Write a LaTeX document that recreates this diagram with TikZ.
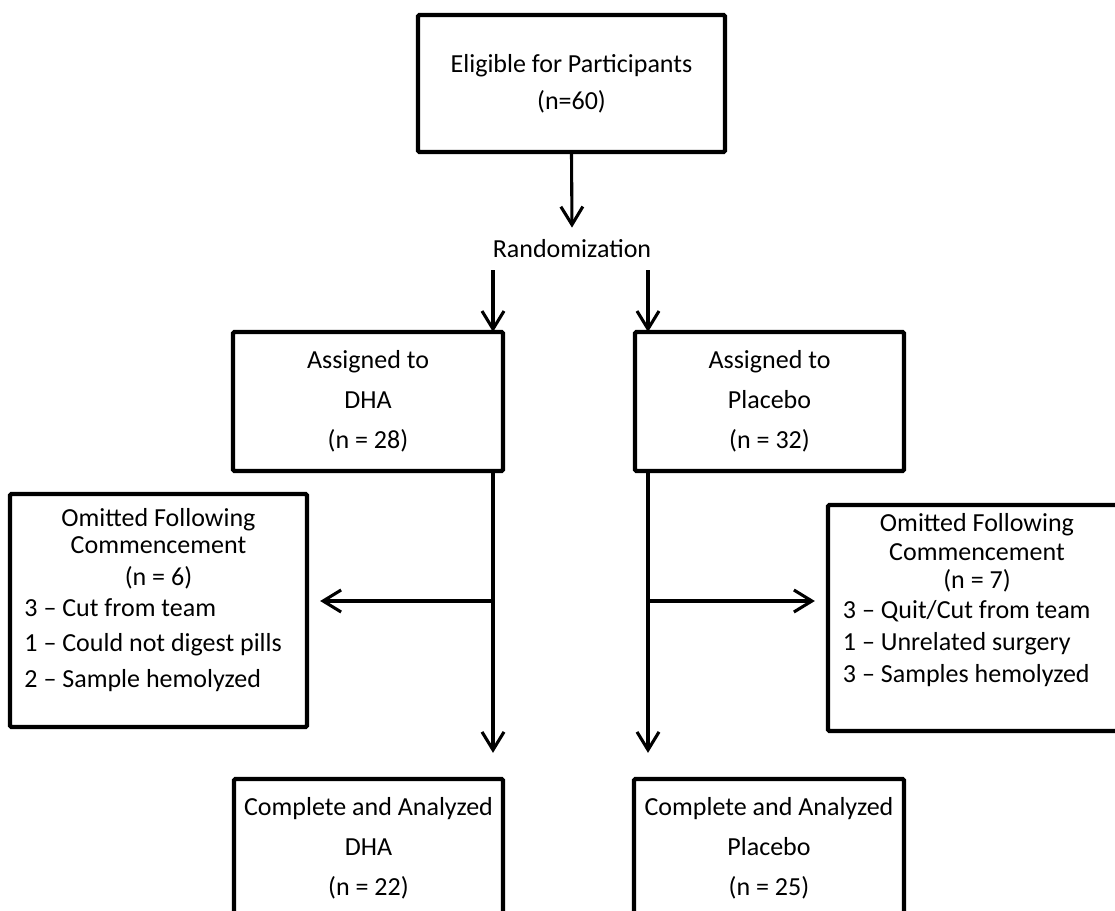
\documentclass[tikz,border=0pt]{standalone}
\usepackage{fontspec}
\setmainfont{Carlito}
\usetikzlibrary{arrows.meta}
\newcommand{\omitline}[1]{\makebox[6.7cm][l]{#1}}

\begin{document}
\begin{tikzpicture}[x=0.025cm, y=-0.025cm, >={Straight Barb[length=0.45cm,width=0.55cm]},
        box/.style={draw, line width=3pt, rounded corners=1pt, inner sep=0pt, align=center,
            font=\fontsize{18.5}{28.45}\selectfont},
        omittext/.style={anchor=north, inner sep=0pt, align=center, font=\fontsize{18.5}{19.3}\selectfont},
        arr/.style={->, line width=2.2pt}]
        \useasboundingbox (0,0) rectangle (1115,911);
        \clip (0,0) rectangle (1115,911);
        % boxes
        \node[box, minimum width=7.675cm, minimum height=3.425cm, font=\fontsize{18.5}{26.3}\selectfont]
            (elig) at (571.5,83.5) {Eligible for Participants\\(n=60)};
        \node[inner sep=0.3cm, font=\fontsize{18.5}{22}\selectfont] (rand) at (572,249) {Randomization};
        \node[box, minimum width=6.75cm, minimum height=3.475cm] (dha) at (368,401.5) {Assigned to\\DHA\\(n = 28)};
        \node[box, minimum width=6.725cm, minimum height=3.475cm] (plac) at (769.5,401.5) {Assigned to\\Placebo\\(n = 32)};
        \node[box, minimum width=7.425cm, minimum height=5.825cm] (omitdha) at (158.5,610.5) {};
        \node[box, minimum width=7.45cm, minimum height=5.65cm] (omitplac) at (977,618) {};
        \node[omittext] (omitdhatxt) at (158.5,508) {Omitted Following\\Commencement\\[0.125cm](n = 6)\\[0.1cm]%
            \omitline{3 -- Cut from team}\\[0.2cm]\omitline{1 -- Could not digest pills}\\[0.2cm]%
            \omitline{2 -- Sample hemolyzed}};
        \node[omittext] (omitplactxt) at (977,513) {Omitted Following\\[0.05cm]Commencement\\[0.025cm](n = 7)\\[0.075cm]%
            \omitline{3 -- Quit/Cut from team}\\[0.125cm]\omitline{1 -- Unrelated surgery}\\[0.1cm]%
            \omitline{3 -- Samples hemolyzed}};
        \node[box, minimum width=6.725cm, minimum height=3.475cm] (cmpdha) at (368.5,848.5) {Complete and Analyzed\\DHA\\(n = 22)};
        \node[box, minimum width=6.75cm, minimum height=3.475cm] (cmpplac) at (769,848.5) {Complete and Analyzed\\Placebo\\(n = 25)};
        % arrows
        \coordinate (dhain) at (493,332);
        \coordinate (placin) at (648,332);
        \coordinate (dhasplit) at (493,601);
        \coordinate (placsplit) at (648,601);
        \draw[arr] (elig.south) -- (rand.north);
        \draw[arr] (rand.south -| dhain) -- (dhain);
        \draw[arr] (rand.south -| placin) -- (placin);
        \draw[arr, shorten >=0.6cm] (dha.south -| dhasplit) -- (cmpdha.north -| dhasplit);
        \draw[arr, shorten >=0.6cm] (plac.south -| placsplit) -- (cmpplac.north -| placsplit);
        \draw[arr, shorten >=0.275cm] (dhasplit) -- (dhasplit -| omitdha.east);
        \draw[arr, shorten >=0.275cm] (placsplit) -- (placsplit -| omitplac.west);
    \end{tikzpicture}
\end{document}
